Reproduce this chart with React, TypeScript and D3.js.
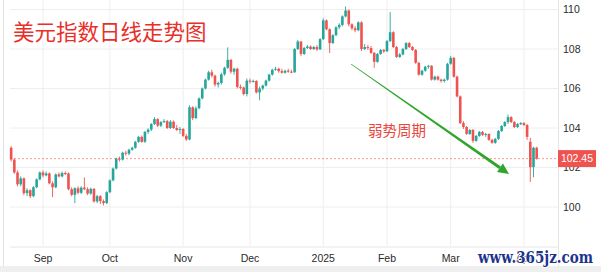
import React from 'react';
import * as d3 from 'd3';

// Daily candles (USD index)
const opens = [
  103.00, 102.40, 101.75, 101.15, 101.45, 100.70, 100.85, 100.55, 101.00, 101.40,
  101.75, 101.60, 101.70, 101.20, 101.00, 101.65, 101.55, 101.72, 101.70, 100.90,
  100.62, 100.95, 100.72, 100.98, 100.90, 100.68, 100.92, 100.28, 100.55, 100.30,
  100.20, 100.75, 101.35, 101.95, 102.45, 102.40, 102.75, 102.70, 102.90, 103.00,
  103.30, 103.55, 103.30, 103.80, 103.92, 104.20, 104.45, 104.12, 104.30, 104.35,
  104.00, 104.32, 104.00, 103.90, 103.95, 103.60, 103.42, 105.05, 104.50, 105.00,
  105.50, 106.00, 106.45, 106.82, 106.65, 106.20, 106.28, 106.72, 107.05, 107.45,
  106.85, 107.00, 106.08, 106.05, 105.72, 106.40, 106.35, 106.38, 105.80, 106.00,
  106.15, 106.40, 106.70, 106.95, 107.00, 106.88, 106.80, 106.90, 106.85, 106.82,
  108.00, 108.38, 107.75, 108.05, 108.12, 108.00, 108.10, 107.98, 108.50, 109.45,
  109.00, 108.30, 108.70, 109.10, 109.22, 109.65, 109.95, 109.25, 109.05, 108.95,
  109.35, 108.00, 108.10, 108.05, 107.80, 107.35, 107.75, 107.95, 107.88, 108.40,
  108.85, 108.10, 107.60, 107.72, 108.00, 108.30, 108.10, 107.95, 107.30, 106.70,
  106.90, 107.10, 107.15, 106.45, 106.60, 106.45, 106.38, 106.45, 107.25, 107.55,
  106.60, 105.60, 104.25, 104.05, 103.70, 103.90, 103.35, 103.60, 103.80, 103.65,
  103.70, 103.40, 103.25, 103.45, 103.85, 104.10, 104.30, 104.55, 104.30, 104.05,
  104.20, 104.25, 104.15, 103.30, 102.02, 103.00,
];
const highs = [
  103.08, 102.45, 101.85, 101.55, 101.50, 100.95, 100.90, 101.05, 101.45, 101.80,
  101.85, 101.80, 101.75, 101.30, 101.70, 101.75, 101.80, 101.80, 101.75, 101.00,
  101.00, 101.05, 101.05, 101.50, 101.00, 100.98, 100.96, 100.62, 100.60, 100.38,
  100.80, 101.40, 102.00, 102.50, 102.55, 102.80, 102.85, 102.95, 103.05, 103.35,
  103.60, 103.62, 103.85, 103.98, 104.25, 104.55, 104.50, 104.35, 104.45, 104.40,
  104.40, 104.38, 104.15, 104.05, 104.00, 103.70, 105.15, 105.10, 105.10, 105.55,
  106.05, 106.50, 106.90, 106.95, 106.70, 106.35, 106.80, 107.10, 108.08, 107.50,
  107.05, 107.05, 106.20, 106.10, 106.50, 106.50, 106.45, 106.42, 106.10, 106.20,
  106.45, 106.75, 107.00, 107.10, 107.05, 107.00, 106.95, 107.00, 106.95, 108.05,
  108.45, 108.40, 108.10, 108.20, 108.18, 108.15, 108.20, 108.55, 109.55, 109.50,
  109.05, 108.75, 109.15, 109.30, 109.70, 110.15, 110.00, 109.30, 109.15, 109.40,
  109.40, 108.25, 108.20, 108.15, 107.85, 107.80, 108.00, 108.00, 108.45, 109.87,
  108.90, 108.15, 107.80, 108.05, 108.35, 108.35, 108.15, 108.00, 107.35, 106.95,
  107.15, 107.20, 107.18, 106.65, 106.65, 106.50, 106.50, 107.30, 107.65, 107.60,
  106.65, 105.65, 104.35, 104.10, 103.95, 103.95, 103.65, 103.85, 103.85, 103.75,
  103.72, 103.45, 103.50, 103.90, 104.15, 104.35, 104.68, 104.60, 104.35, 104.25,
  104.30, 104.30, 104.20, 103.50, 103.05, 103.05,
];
const lows = [
  102.30, 101.68, 101.05, 101.05, 100.60, 100.55, 100.45, 100.50, 100.95, 101.35,
  101.50, 101.55, 101.15, 100.50, 100.95, 101.50, 101.50, 101.62, 100.85, 100.55,
  100.20, 100.65, 100.65, 100.85, 100.60, 100.62, 100.22, 100.20, 100.15, 100.08,
  100.15, 100.70, 101.30, 101.90, 102.30, 102.35, 102.60, 102.62, 102.85, 102.95,
  103.25, 103.25, 103.25, 103.70, 103.85, 104.15, 104.05, 104.05, 104.25, 103.95,
  103.95, 103.95, 103.85, 103.70, 103.55, 103.35, 103.38, 104.40, 104.45, 104.95,
  105.45, 105.95, 106.40, 106.55, 106.10, 106.05, 106.20, 106.65, 107.00, 106.75,
  106.70, 106.00, 105.95, 105.65, 105.60, 106.25, 106.30, 105.75, 105.40, 105.90,
  106.10, 106.35, 106.65, 106.90, 106.80, 106.75, 106.75, 106.80, 106.78, 106.80,
  107.95, 107.65, 107.70, 108.00, 107.95, 107.95, 107.90, 107.95, 108.45, 108.95,
  107.80, 108.25, 108.65, 109.00, 109.15, 109.60, 109.15, 108.95, 108.85, 108.90,
  107.90, 107.95, 107.95, 107.75, 107.05, 107.30, 107.70, 107.80, 107.85, 108.35,
  108.05, 107.55, 107.55, 107.68, 107.95, 108.05, 107.90, 107.25, 106.65, 106.65,
  106.85, 107.00, 106.40, 106.40, 106.40, 106.30, 106.30, 106.40, 107.20, 106.55,
  105.55, 104.20, 103.95, 103.65, 103.65, 103.25, 103.30, 103.55, 103.60, 103.55,
  103.35, 103.20, 103.20, 103.40, 103.80, 104.05, 104.20, 104.25, 104.00, 104.00,
  104.15, 104.10, 103.40, 101.27, 101.50, 102.40,
];
const closes = [
  102.40, 101.75, 101.15, 101.45, 100.70, 100.85, 100.55, 101.00, 101.40, 101.75,
  101.60, 101.70, 101.20, 101.00, 101.65, 101.55, 101.72, 101.70, 100.90, 100.62,
  100.95, 100.72, 100.98, 100.90, 100.68, 100.92, 100.28, 100.55, 100.30, 100.20,
  100.75, 101.35, 101.95, 102.45, 102.40, 102.75, 102.70, 102.90, 103.00, 103.30,
  103.55, 103.30, 103.80, 103.92, 104.20, 104.45, 104.12, 104.30, 104.35, 104.00,
  104.32, 104.00, 103.90, 103.95, 103.60, 103.42, 105.05, 104.50, 105.00, 105.50,
  106.00, 106.45, 106.82, 106.65, 106.20, 106.28, 106.72, 107.05, 107.45, 106.85,
  107.00, 106.08, 106.05, 105.72, 106.40, 106.35, 106.38, 105.80, 106.00, 106.15,
  106.40, 106.70, 106.95, 107.00, 106.88, 106.80, 106.90, 106.85, 106.82, 108.00,
  108.38, 107.75, 108.05, 108.12, 108.00, 108.10, 107.98, 108.50, 109.45, 109.00,
  108.30, 108.70, 109.10, 109.22, 109.65, 109.95, 109.25, 109.05, 108.95, 109.35,
  108.00, 108.10, 108.05, 107.80, 107.35, 107.75, 107.95, 107.88, 108.40, 108.85,
  108.10, 107.60, 107.72, 108.00, 108.30, 108.10, 107.95, 107.30, 106.70, 106.90,
  107.10, 107.15, 106.45, 106.60, 106.45, 106.38, 106.45, 107.25, 107.55, 106.60,
  105.60, 104.25, 104.05, 103.70, 103.90, 103.35, 103.60, 103.80, 103.65, 103.70,
  103.40, 103.25, 103.45, 103.85, 104.10, 104.30, 104.55, 104.30, 104.05, 104.20,
  104.25, 104.15, 103.55, 102.02, 103.00, 102.45,
];

const monthLabels = ['Sep', 'Oct', 'Nov', 'Dec', '2025', 'Feb', 'Mar', 'Apr'];
const monthBarIndex = [10, 31, 54, 75, 98, 118, 138, 161];
const priceTicks = [100, 102, 104, 106, 108, 110];
const lastPrice = 102.45;
const titleText = '美元指数日线走势图';
const noteText = '弱势周期';
const watermarkText = 'www.365jz.com';

const UP = '#26a69a';
const DOWN = '#ef5350';

export default function App() {
  const W = 601;
  const H = 272;
  const n = closes.length;
  const plotLeft = 10;
  const plotRight = 558;
  const plotBottom = 246.5;
  const x = d3.scaleLinear().domain([0, n - 1]).range([11.15, 11.15 + 3.185 * (n - 1)]);
  const y = d3.scaleLinear().domain([98, 110]).range([plotBottom, 9.5]);
  const bw = 2.6;

  // arrow geometry
  const a0 = [351, 64];
  const a1 = [509, 174];
  const dx = a1[0] - a0[0];
  const dy = a1[1] - a0[1];
  const len = Math.hypot(dx, dy);
  const ux = dx / len, uy = dy / len;
  const nx = -uy, ny = ux;
  const headLen = 11, headW = 5.2;
  const bx = a1[0] - ux * headLen, by = a1[1] - uy * headLen;
  const shaft = [
    [a0[0] + nx * 0.35, a0[1] + ny * 0.35],
    [bx + nx * 1.6, by + ny * 1.6],
    [bx - nx * 1.6, by - ny * 1.6],
    [a0[0] - nx * 0.35, a0[1] - ny * 0.35],
  ];
  const head = [
    [a1[0], a1[1]],
    [bx + nx * headW, by + ny * headW],
    [bx - nx * headW, by - ny * headW],
  ];
  const pts = (p: number[][]) => p.map((q) => q.join(',')).join(' ');

  const fontAxis = '"Liberation Sans", Arial, sans-serif';

  return (
    <svg
      width={W}
      height={H}
      viewBox={`0 0 ${W} ${H}`}
      style={{ position: 'absolute', left: 0, top: 0, display: 'block' }}
    >
      <rect x={0} y={0} width={W} height={H} fill="#ffffff" />
      <rect x={0} y={266} width={W} height={H - 266} fill="#efefef" />
      <line x1={3.5} x2={3.5} y1={0} y2={266} stroke="#e3e3e3" />

      {priceTicks.map((p) => (
        <line key={'h' + p} x1={plotLeft} x2={plotRight} y1={y(p)} y2={y(p)} stroke="#eeeeee" />
      ))}
      {monthBarIndex.map((i, k) => (
        <line key={'v' + k} x1={x(i)} x2={x(i)} y1={0} y2={plotBottom} stroke="#eeeeee" />
      ))}
      <line x1={plotLeft} x2={plotRight} y1={plotBottom + 0.5} y2={plotBottom + 0.5} stroke="#e6e6e6" />
      <line x1={plotRight + 0.5} x2={plotRight + 0.5} y1={0} y2={266} stroke="#e6e6e6" />

      <line
        x1={plotLeft}
        x2={plotRight}
        y1={y(lastPrice)}
        y2={y(lastPrice)}
        stroke={DOWN}
        strokeOpacity={0.6}
        strokeDasharray="2,2"
      />

      {closes.map((c, i) => {
        const o = opens[i];
        const up = c >= o;
        const col = up ? UP : DOWN;
        const cx = x(i);
        const top = y(Math.max(o, c));
        const hgt = Math.max(1, Math.abs(y(o) - y(c)));
        return (
          <g key={i}>
            <line x1={cx} x2={cx} y1={y(highs[i])} y2={y(lows[i])} stroke={col} strokeWidth={0.9} />
            <rect x={cx - bw / 2} y={top} width={bw} height={hgt} fill={col} />
          </g>
        );
      })}

      {priceTicks.map((p) => (
        <text
          key={'yl' + p}
          x={563}
          y={y(p)}
          dy="0.35em"
          fontSize={10.5}
          fontFamily={fontAxis}
          fill="#2b2b2b"
        >
          {p}
        </text>
      ))}

      {monthLabels.map((m, k) => (
        <text
          key={'xl' + k}
          x={x(monthBarIndex[k])}
          y={262}
          textAnchor="middle"
          fontSize={10.5}
          fontFamily={fontAxis}
          fill="#2b2b2b"
        >
          {m}
        </text>
      ))}

      <rect x={558} y={y(lastPrice) - 8.5} width={38} height={17} fill={DOWN} />
      <text
        x={577}
        y={y(lastPrice)}
        dy="0.35em"
        textAnchor="middle"
        fontSize={10.5}
        fontFamily={fontAxis}
        fill="#ffffff"
      >
        {lastPrice.toFixed(2)}
      </text>

      <text x={13} y={40} fontSize={21.5} fontFamily='"Noto Sans CJK SC", sans-serif' fill="#e8302a">
        {titleText}
      </text>

      <text x={368} y={136} fontSize={14.5} fontFamily='"Noto Sans CJK SC", sans-serif' fill="#e8473c">
        {noteText}
      </text>

      <polygon points={pts(shaft)} fill="#2fa52b" />
      <polygon points={pts(head)} fill="#2fa52b" />

      <text
        x={478}
        y={263}
        fontSize={17}
        fontWeight="bold"
        fontFamily='"DejaVu Serif", "Liberation Serif", serif'
        fill="#1d348c"
        stroke="#ffffff"
        strokeWidth={2}
        paintOrder="stroke"
        textLength={115}
        lengthAdjust="spacingAndGlyphs"
      >
        {watermarkText}
      </text>
    </svg>
  );
}
